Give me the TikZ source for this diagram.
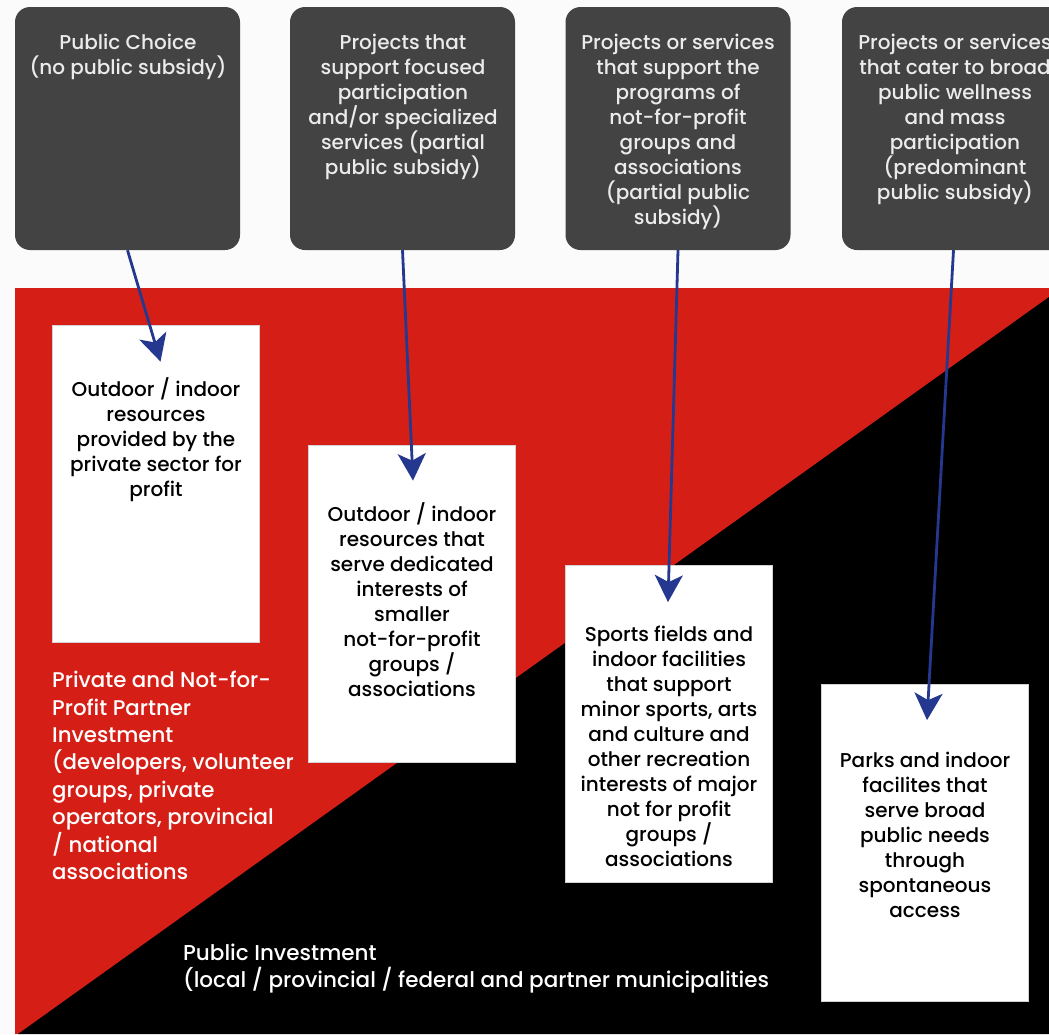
\documentclass[tikz,border=0pt]{standalone}
\usepackage{fontspec}
\IfFontExistsTF{Poppins Medium}{\setmainfont{Poppins Medium}}{\setmainfont{Poppins}}
\usetikzlibrary{arrows.meta}
\definecolor{bg}{HTML}{FBFBFB}
\definecolor{darkbox}{HTML}{434343}
\definecolor{redzone}{HTML}{D51F16}
\definecolor{arrowblue}{HTML}{24388F}
\definecolor{boxtext}{HTML}{EBEBEB}
\begin{document}
\begin{tikzpicture}[x=1pt,y=-1pt,
  topbox/.style={fill=darkbox, rounded corners=15pt, minimum width=225pt, minimum height=243pt, inner sep=0pt},
  whitebox/.style={fill=white, draw=gray!35, line width=0.8pt, minimum width=207pt, minimum height=317pt, inner sep=0pt},
  txt/.style={align=center, anchor=north, inner sep=0pt, font=\fontsize{20}{25}\selectfont},
  toptext/.style={txt, text=boxtext},
  wtext/.style={txt, text=black},
  zonetext/.style={align=left, anchor=north west, inner sep=0pt, text=white, font=\fontsize{21.3}{27.4}\selectfont},
  link/.style={draw=arrowblue, line width=2.8pt, -{Stealth[length=27pt,width=28pt,inset=7pt]}}]
\clip (0,0) rectangle (1049,1034);
\fill[bg] (0,0) rectangle (1049,1034);
% zones
\fill[redzone] (15,288) rectangle (1049,1034);
\fill[black] (1049,297) -- (1049,1034) -- (18,1034) -- cycle;
% top boxes
\node[topbox] (t1) at (127.5,128.5) {};
\node[topbox] (t2) at (402.5,128.5) {};
\node[topbox] (t3) at (678,128.5) {};
\node[topbox] (t4) at (954.5,128.5) {};
\node[toptext] (tt1) at (128,34) {Public Choice\\(no public subsidy)};
\node[toptext] (tt2) at (403,34) {Projects that\\support focused\\participation\\and/or specialized\\services (partial\\public subsidy)};
\node[toptext] (tt3) at (678,34) {Projects or services\\that support the\\programs of\\not-for-profit\\groups and\\associations\\(partial public\\subsidy)};
\node[toptext] (tt4) at (955,34) {Projects or services\\that cater to broad\\public wellness\\and mass\\participation\\(predominant\\public subsidy)};
% white boxes
\node[whitebox] (w1) at (155.5,483.5) {};
\node[whitebox] (w2) at (412,603.5) {};
\node[whitebox] (w3) at (669,724) {};
\node[whitebox] (w4) at (925,843) {};
\node[wtext] (wt1) at (156,377) {Outdoor / indoor\\resources\\provided by the\\private sector for\\profit};
\node[wtext] (wt2) at (412,502) {Outdoor / indoor\\resources that\\serve dedicated\\interests of\\smaller\\not-for-profit\\groups /\\associations};
\node[wtext] (wt3) at (669,626) {Sports fields and\\indoor facilities\\that support\\minor sports, arts\\and culture and\\other recreation\\interests of major\\not for profit\\groups /\\associations};
\node[wtext] (wt4) at (925,752) {Parks and indoor\\facilites that\\serve broad\\public needs\\through\\spontaneous\\access};
% zone labels
\node[zonetext] (zl1) at (52,671) {Private and Not-for-\\Profit Partner\\Investment\\(developers, volunteer\\groups, private\\operators, provincial\\/ national\\associations};
\node[zonetext, font=\fontsize{21.5}{27}\selectfont] (zl2) at (183,944) {Public Investment\\(local / provincial / federal and partner municipalities};
% connectors
\draw[link] (t1.south) -- ([xshift=5pt,yshift=-37pt]w1.north);
\draw[link] (t2.south) -- ([xshift=1pt,yshift=-36pt]w2.north);
\draw[link] (t3.south) -- ([xshift=-1pt,yshift=-37pt]w3.north);
\draw[link] ([xshift=-1pt]t4.south) -- ([xshift=2pt,yshift=-36pt]w4.north);
\end{tikzpicture}
\end{document}
